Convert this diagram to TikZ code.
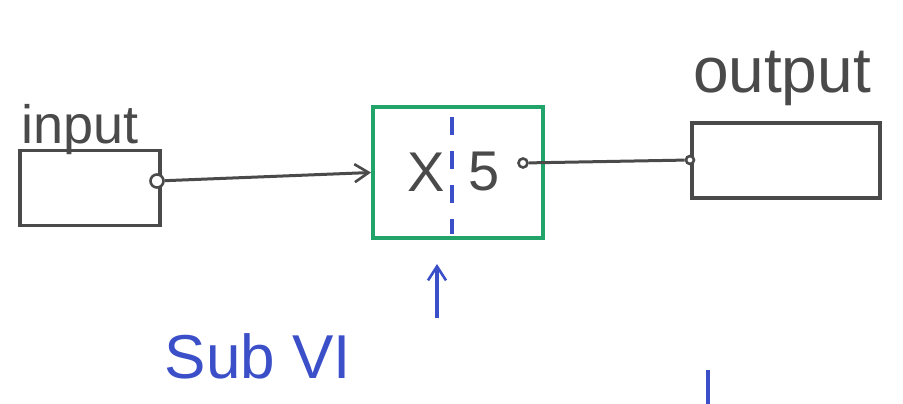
\documentclass[tikz,border=0pt]{standalone}
\usepackage{fontspec}
\setmainfont{Liberation Sans}
\usetikzlibrary{arrows.meta}
\definecolor{inkgray}{HTML}{4A4A4A}
\definecolor{inkgreen}{HTML}{22A36A}
\definecolor{inkblue}{HTML}{3A4FC8}
\begin{document}
\begin{tikzpicture}[x=1pt,y=-1pt,
  graybox/.style={draw=inkgray, line width=3.4pt, rectangle, inner sep=0pt},
  greenbox/.style={draw=inkgreen, line width=4pt, rectangle, inner sep=0pt},
  term/.style={draw=inkgray, line width=2.6pt, circle, inner sep=0pt, fill=white},
  wire/.style={draw=inkgray, line width=3pt},
  graytext/.style={text=inkgray, inner sep=0pt},
  bluetext/.style={text=inkblue, inner sep=0pt},
  blueline/.style={draw=inkblue, line width=3.2pt},
  barb/.style={-{Straight Barb[length=14pt,width=18pt,line width=2.6pt]}}]
\useasboundingbox (0,0) rectangle (903,404);
% input
\node[graytext, font=\fontsize{54}{54}\selectfont] (inlabel) at (80,130) {input};
\node[graybox, minimum width=140pt, minimum height=75pt] (inbox) at (90,188) {};
\node[term, minimum width=13pt, minimum height=13pt] (interm) at (157,181) {};
% sub VI
\node[greenbox, minimum width=170pt, minimum height=131pt] (sub) at (458,172.5) {};
\node[graytext, font=\fontsize{56}{56}\selectfont] (xsym) at (426,172) {X};
\node[graytext, font=\fontsize{56}{56}\selectfont] (five) at (484,172) {5};
\draw[blueline, dash pattern=on 18pt off 16pt] (452,117) -- (452,234);
\node[term, minimum size=9pt] (outterm) at (523,163) {};
% output
\node[graytext, font=\fontsize{64}{64}\selectfont] (outlabel) at (782,78) {output};
\node[graybox, minimum width=188pt, minimum height=75pt] (outbox) at (786,160.5) {};
\node[term, minimum size=8pt] (oterm) at (690,160) {};
% connectors
\draw[wire, barb] (interm) -- (sub.west);
\draw[wire] (outterm) -- (oterm);
% Sub VI pointer
\coordinate (vitail) at (437,318);
\draw[blueline, barb] (vitail) -- ([yshift=-24pt]sub.south -| vitail);
\node[bluetext, font=\fontsize{62}{62}\selectfont] (subvi) at (258,356) {Sub VI};
\coordinate (ticktop) at (708,370);
\coordinate (tickbot) at (708,404);
\draw[blueline] (ticktop) -- (tickbot);
\end{tikzpicture}
\end{document}
